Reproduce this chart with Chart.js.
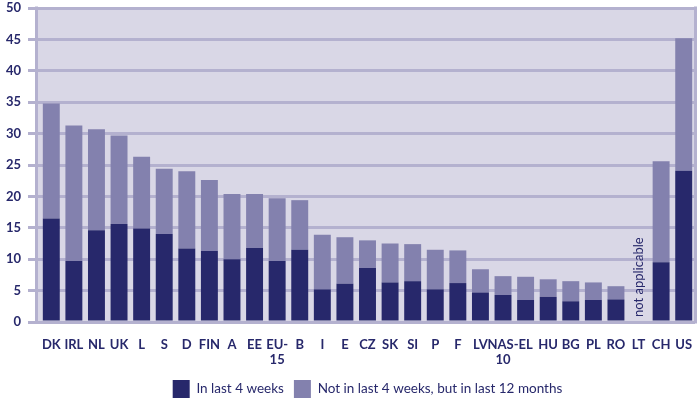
<!DOCTYPE html>
<html lang="en">
  <head>
    <meta charset="UTF-8">
    <title>Chart</title>
    <script src="https://cdn.jsdelivr.net/npm/chart.js"></script>
    <style>
      html, body { margin: 0; padding: 0; background: #ffffff; }
      #wrap { width: 700px; height: 399px; position: relative; }
    </style>
  </head>
  <body>
    <div id="wrap"><canvas id="chart"></canvas></div>
    <script>
      const countries = ["DK", "IRL", "NL", "UK", "L", "S", "D", "FIN", "A", "EE", ["EU-", "15"], "B", "I", "E", "CZ", "SK", "SI", "P", "F", "LV", ["NAS-", "10"], "EL", "HU", "BG", "PL", "RO", "LT", "CH", "US"];
      const lastFourWeeks = [16.5, 9.7, 14.6, 15.6, 14.9, 14.0, 11.7, 11.3, 10.0, 11.8, 9.7, 11.5, 5.2, 6.1, 8.6, 6.3, 6.5, 5.2, 6.2, 4.7, 4.3, 3.5, 4.0, 3.3, 3.5, 3.6, null, 9.5, 24.1];
      const lastTwelveMonths = [18.3, 21.6, 16.1, 14.1, 11.4, 10.4, 12.3, 11.3, 10.4, 8.6, 10.0, 7.9, 8.7, 7.4, 4.4, 6.2, 5.9, 6.3, 5.2, 3.7, 3.0, 3.7, 2.8, 3.2, 2.8, 2.1, null, 16.1, 21.1];
      const yTicks = [0, 5, 10, 15, 20, 25, 30, 35, 40, 45, 50];
      const notApplicable = "LT";

      const navy = "#27286b";
      const lilac = "#8381ae";
      const gridColor = "#b4b1cf";
      const plotBg = "#d9d7e6";
      const font = "Lato, 'Open Sans', sans-serif";

      const plotFrame = {
        id: "plotFrame",
        beforeDraw(chart) {
          const a = chart.chartArea;
          const ctx = chart.ctx;
          ctx.save();
          ctx.fillStyle = plotBg;
          ctx.fillRect(a.left - 3, a.top, a.right - a.left + 3, a.bottom - a.top);
          ctx.restore();
        },
        afterDatasetsDraw(chart) {
          const a = chart.chartArea;
          const ctx = chart.ctx;
          ctx.save();
          ctx.strokeStyle = gridColor;
          ctx.lineWidth = 3;
          ctx.beginPath();
          ctx.moveTo(a.left - 3.5, a.top - 1.5);
          ctx.lineTo(a.left - 3.5, a.bottom + 1.5);
          ctx.moveTo(a.right + 0.5, a.top - 1.5);
          ctx.lineTo(a.right + 0.5, a.bottom + 1.5);
          ctx.stroke();
          // note for the missing country
          const idx = countries.indexOf(notApplicable);
          const x = chart.scales.x.getPixelForValue(idx);
          ctx.translate(x, a.bottom - 5);
          ctx.rotate(-Math.PI / 2);
          ctx.fillStyle = navy;
          ctx.font = "13px " + font;
          ctx.textAlign = "left";
          ctx.textBaseline = "middle";
          ctx.fillText("not applicable", 0, 0);
          ctx.restore();
        },
      };

      new Chart(document.getElementById("chart"), {
        type: "bar",
        data: {
          labels: countries,
          datasets: [
            {
              label: "In last 4 weeks",
              data: lastFourWeeks,
              backgroundColor: navy,
              barPercentage: 0.75,
              categoryPercentage: 1,
            },
            {
              label: "Not in last 4 weeks, but in last 12 months",
              data: lastTwelveMonths,
              backgroundColor: lilac,
              barPercentage: 0.75,
              categoryPercentage: 1,
            },
          ],
        },
        options: {
          responsive: true,
          maintainAspectRatio: false,
          animation: false,
          layout: { padding: { top: 8, right: 5, left: 0, bottom: -9 } },
          plugins: {
            tooltip: { enabled: false },
            legend: {
              position: "bottom",
              fullSize: false,
              labels: {
                boxWidth: 17,
                boxHeight: 18,
                padding: 10,
                color: navy,
                font: { family: font, size: 13.5 },
              },
            },
          },
          scales: {
            x: {
              stacked: true,
              grid: { display: false },
              border: { display: false },
              afterFit(scale) {
                scale.height = 48;
              },
              ticks: {
                color: navy,
                font: { family: font, size: 13, weight: "bold", lineHeight: 1.15 },
                maxRotation: 0,
                autoSkip: false,
                padding: 7,
              },
            },
            y: {
              stacked: true,
              min: 0,
              max: 50,
              afterBuildTicks(scale) {
                scale.ticks = yTicks.map((v) => ({ value: v }));
              },
              afterFit(scale) {
                scale.width = 40;
                scale.paddingTop = 0;
                scale.paddingBottom = 0;
              },
              grid: {
                color: gridColor,
                lineWidth: 3,
                tickLength: 12,
              },
              border: { display: false },
              ticks: {
                color: navy,
                font: { family: font, size: 13, weight: "bold" },
                padding: 7,
              },
            },
          },
        },
        plugins: [plotFrame],
      });
    </script>
  </body>
</html>
